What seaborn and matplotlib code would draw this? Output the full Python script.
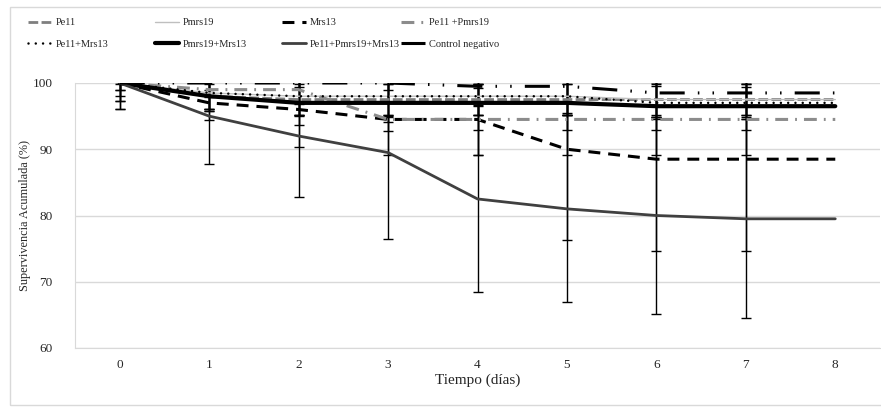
import numpy as np
import pandas as pd
import matplotlib
matplotlib.use("Agg")
import matplotlib.pyplot as plt
from matplotlib.patches import Rectangle
import seaborn as sns

# ===========================
# Data
# ===========================
days = [0, 1, 2, 3, 4, 5, 6, 7, 8]

pe11 = [100, 98, 97.5, 97.5, 97.5, 97.5, 97.5, 97.5, 97.5]
pmrs19 = [100, 98.5, 98, 98, 98, 98, 97.5, 97.5, 97.5]
mrs13 = [100, 97, 96, 94.5, 94.5, 90, 88.5, 88.5, 88.5]
pe11_pmrs19 = [100, 99, 99, 94.5, 94.5, 94.5, 94.5, 94.5, 94.5]
pe11_mrs13 = [100, 98.5, 98, 98, 98, 98, 97, 97, 97]
pmrs19_mrs13 = [100, 98, 97, 97, 97, 97, 96.5, 96.5, 96.5]
pe11_pmrs19_mrs13 = [100, 95, 92, 89.5, 82.5, 81, 80, 79.5, 79.5]
control = [100, 100, 100, 100, 99.5, 99.5, 98.5, 98.5, 98.5]

# standard deviations (no bar on day 8)
pe11_sd = [0.2, 1.9, 2.4, 2.3, 2.3, 2.3, 2.6, 2.4, np.nan]
pmrs19_sd = [2.7, 2.7, 3.0, 3.0, 1.3, 2.5, 2.6, 2.6, np.nan]
mrs13_sd = [2.7, 0.9, 0.9, 0.4, 5.4, 13.7, 13.8, 13.8, np.nan]
pe11_pmrs19_sd = [1.1, 3.2, 8.6, 5.4, 5.4, 5.4, 5.4, 5.4, np.nan]
pe11_mrs13_sd = [1.9, 2.4, 2.9, 2.8, 2.8, 2.8, 2.5, 2.4, np.nan]
pmrs19_mrs13_sd = [4.0, 3.6, 3.3, 4.2, 4.1, 4.1, 3.6, 3.6, np.nan]
pe11_pmrs19_mrs13_sd = [4.0, 7.3, 9.2, 13.0, 14.0, 14.1, 14.9, 15.0, np.nan]
control_sd = [1.1, 1.1, 0.6, 1.1, 4.3, 4.3, 3.3, 3.3, np.nan]

labels = ["Pe11", "Pmrs19", "Mrs13", "Pe11 +Pmrs19",
          "Pe11+Mrs13", "Pmrs19+Mrs13", "Pe11+Pmrs19+Mrs13", "Control negativo"]
means = [pe11, pmrs19, mrs13, pe11_pmrs19, pe11_mrs13, pmrs19_mrs13, pe11_pmrs19_mrs13, control]
sds = [pe11_sd, pmrs19_sd, mrs13_sd, pe11_pmrs19_sd, pe11_mrs13_sd, pmrs19_mrs13_sd,
       pe11_pmrs19_mrs13_sd, control_sd]

# line styles per series
styles = {
    "Pe11": dict(color="#7f7f7f", lw=2.0, ls=(0, (3.5, 1.2))),
    "Pmrs19": dict(color="#bfbfbf", lw=1.0, ls="-"),
    "Mrs13": dict(color="black", lw=2.2, ls=(0, (3.9, 2.6))),
    "Pe11 +Pmrs19": dict(color="#8c8c8c", lw=2.2, ls=(0, (4.2, 2.3, 0.6, 2.3))),
    "Pe11+Mrs13": dict(color="black", lw=1.8, ls=(0, (0.01, 2.9))),
    "Pmrs19+Mrs13": dict(color="black", lw=3.0, ls="-"),
    "Pe11+Pmrs19+Mrs13": dict(color="#404040", lw=2.0, ls="-"),
    "Control negativo": dict(color="black", lw=2.2, ls=(0, (8.2, 4.3, 0.5, 4.3, 0.5, 4.3))),
}

df = pd.DataFrame({
    "dia": np.tile(days, len(labels)),
    "serie": np.repeat(labels, len(days)),
    "superv": np.concatenate(means),
})

# ===========================
# Plot
# ===========================
sns.set_style("white")
plt.rcParams["font.family"] = ["Liberation Serif", "DejaVu Serif"]

fig = plt.figure(figsize=(8.81, 4.12), dpi=100)
ax = fig.add_axes([75 / 881, 1 - 348 / 412, 805 / 881, 265 / 412])

# error bars
for lab, m, s in zip(labels, means, sds):
    ax.errorbar(days, m, yerr=s, fmt="none", ecolor="black", elinewidth=1,
                capsize=3.5, capthick=1, zorder=2)

handles = []
for lab in labels:
    st = styles[lab]
    sub = df[df["serie"] == lab]
    sns.lineplot(data=sub, x="dia", y="superv", ax=ax, color=st["color"],
                 linewidth=st["lw"], zorder=3, legend=False)
    line = ax.lines[-1]
    line.set_linestyle(st["ls"])
    if lab == "Pe11+Mrs13":
        line.set_dash_capstyle("round")
    handles.append(line)

ax.set_xlim(-0.5, 8.5)
ax.set_ylim(60, 100)
ax.set_xticks(days)
ax.set_yticks([60, 70, 80, 90, 100])
ax.tick_params(axis="x", length=0, pad=8, labelsize=9.5)
ax.tick_params(axis="y", length=0, pad=16, labelsize=9.5)
ax.grid(axis="y", color="#d9d9d9", lw=1)
ax.set_axisbelow(True)
for side in ["top", "right"]:
    ax.spines[side].set_visible(False)
ax.spines["bottom"].set_color("#d9d9d9")
ax.spines["left"].set_color("#d9d9d9")

ax.set_xlabel("Tiempo (días)", fontsize=11, labelpad=2)
ax.set_ylabel("Supervivencia Acumulada (%)", fontsize=8.8, labelpad=1)

# legend: four columns of two entries each
col_x = [28, 155, 282, 401]
for i, x in enumerate(col_x):
    fig.legend([handles[i], handles[i + 4]], [labels[i], labels[i + 4]],
               loc="upper left", bbox_to_anchor=(x / 881, 1 - 18 / 412),
               frameon=False, fontsize=7.5, borderpad=0, borderaxespad=0,
               handlelength=2.3, handletextpad=0.35, labelspacing=1.2)

# outer chart border
fig.patches.append(Rectangle((10 / 881, 1 - 405 / 412), 900 / 881, 398 / 412,
                             transform=fig.transFigure, fill=False,
                             edgecolor="#d9d9d9", lw=1))

plt.savefig("out.png", dpi=100)
plt.close()
